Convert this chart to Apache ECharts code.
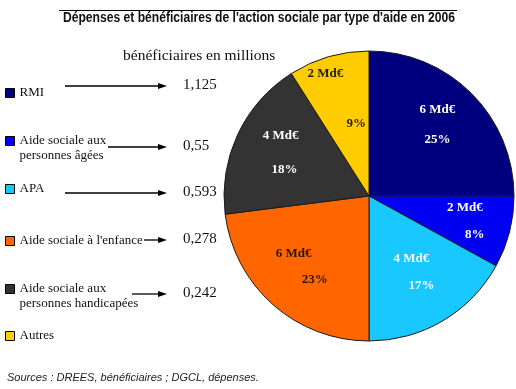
<!DOCTYPE html>
<html><head><meta charset="utf-8">
<script src="https://cdn.jsdelivr.net/npm/echarts@6/dist/echarts.min.js"></script>
<style>html,body{margin:0;padding:0;background:#fff}#c{width:516px;height:389px}</style>
</head><body><div id="c"></div>
<script>
// ---- data ----
const categories = ['RMI', 'Aide sociale aux personnes âgées', 'APA', "Aide sociale à l'enfance", 'Aide sociale aux personnes handicapées', 'Autres'];
const shares = [25, 8, 17, 23, 18, 9];            // % of spending
const spending = [6, 2, 4, 6, 4, 2];              // Md€
const beneficiaries = [1.125, 0.55, 0.593, 0.278, 0.242, null]; // millions
const titleText = "Dépenses et bénéficiaires de l'action sociale par type d'aide en 2006";

// ---- styling / layout ----
const colors = ['#00007f', '#0000f2', '#19c8ff', '#ff6600', '#333333', '#ffcc00'];
const labelColors = ['#ffffff', '#ffffff', '#ffffff', '#2a1200', '#ffffff', '#2a2000'];
const labelGap = [30, 27, 27, 26, 34, 50];
const labelShift = [0, 10, 10, 21, 4, 31];
const labelLift = [0, 0, 11, 5, 0, 0];
const labelDx = [-3, 3, -4, 2, 5, 0];
const legendCenters = [93, 141, 189, 241, 289, 336];
const arrowStarts = [65, 108, 65, 144, 132];
const rowYs = [86, 147, 193, 240, 294];

const serif = "'Liberation Serif','Times New Roman',serif";
const titleFont = "bold 14px 'Liberation Sans', Arial, sans-serif";
const fmtNum = v => String(v).replace('.', ',');

const legends = categories.map((name, i) => {
  const two = name.indexOf(' personnes') >= 0;
  return {
    data: [name], orient: 'vertical', left: 5, top: legendCenters[i] - (two ? 22.5 : 7.5),
    padding: 0, itemWidth: 9, itemHeight: 9, itemGap: 0, icon: 'rect', selectedMode: false,
    itemStyle: { borderColor: '#000', borderWidth: 1 },
    formatter: n => (n.indexOf(' personnes') >= 0 ? ' \n' + n.replace(' personnes', '\npersonnes') : n),
    textStyle: { fontFamily: serif, fontSize: 13, color: '#111', lineHeight: 15 }
  };
});

// title squeezed to the narrow width of the original heading
const cv = document.createElement('canvas').getContext('2d');
cv.font = titleFont;
const titleScale = 392 / cv.measureText(titleText).width;

const graphics = [
  { type: 'line', shape: { x1: 59, y1: 10.5, x2: 457, y2: 10.5 }, style: { stroke: '#000', lineWidth: 1 } },
  { type: 'text', x: 259, y: 18, scaleX: titleScale, style: { text: titleText, font: titleFont, fill: '#111', align: 'center', verticalAlign: 'middle' } }
];
beneficiaries.forEach((v, i) => {
  if (v == null) return;
  const y = rowYs[i];
  graphics.push({ type: 'line', shape: { x1: arrowStarts[i], y1: y, x2: 160, y2: y }, style: { stroke: '#000', lineWidth: 1.3 } });
  graphics.push({ type: 'polygon', shape: { points: [[158, y - 3], [167, y], [158, y + 3]] }, style: { fill: '#000' } });
  graphics.push({ type: 'text', left: 183, top: y - 8, style: { text: fmtNum(v), fontFamily: serif, fontSize: 15, fill: '#111' } });
});

const chart = echarts.init(document.getElementById('c'));
chart.setOption({
  animation: false,
  title: [
    { text: 'bénéficiaires en millions', left: 123, top: 48, padding: 0,
      textStyle: { fontFamily: serif, fontSize: 15.5, fontWeight: 'normal', color: '#111' } },
    { text: 'Sources : DREES, bénéficiaires ; DGCL, dépenses.', left: 7, top: 372, padding: 0,
      textStyle: { fontFamily: "'Liberation Sans',Arial,sans-serif", fontSize: 11, fontStyle: 'italic', fontWeight: 'normal', color: '#222' } }
  ],
  legend: legends,
  graphic: graphics,
  series: [
    {
      type: 'pie', center: [369, 196], radius: 145, startAngle: 90, clockwise: true, silent: true,
      label: { show: false }, labelLine: { show: false },
      itemStyle: { borderColor: '#1a1a1a', borderWidth: 1 },
      data: categories.map((n, i) => ({ name: n, value: shares[i], itemStyle: { color: colors[i] } }))
    },
    {
      type: 'pie', center: [369, 196], radius: 196, startAngle: 90, clockwise: true, silent: true, legendHoverLink: false,
      itemStyle: { color: 'rgba(0,0,0,0)', borderWidth: 0 }, labelLine: { show: false }, z: 5,
      data: categories.map((n, i) => {
        const s = labelShift[i], L = labelLift[i], dx = labelDx[i];
        const padL = dx > 0 ? 2 * dx : 0, padR = dx < 0 ? -2 * dx : 0;
        const padT = L < 0 ? -2 * L : 0, padB = L > 0 ? 2 * L : 0;
        return {
          name: n, value: shares[i],
          label: {
            show: true, position: 'inside',
            formatter: '{a|' + spending[i] + ' Md€}\n{b|' + shares[i] + '%}',
            rich: {
              a: { fontFamily: serif, fontWeight: 'bold', fontSize: 13, color: labelColors[i], lineHeight: labelGap[i], padding: [padT, s + padR, padB, padL] },
              b: { fontFamily: serif, fontWeight: 'bold', fontSize: 13, color: labelColors[i], lineHeight: labelGap[i], padding: [padT, padR, padB, s + padL] }
            }
          }
        };
      })
    }
  ]
});
</script></body></html>
